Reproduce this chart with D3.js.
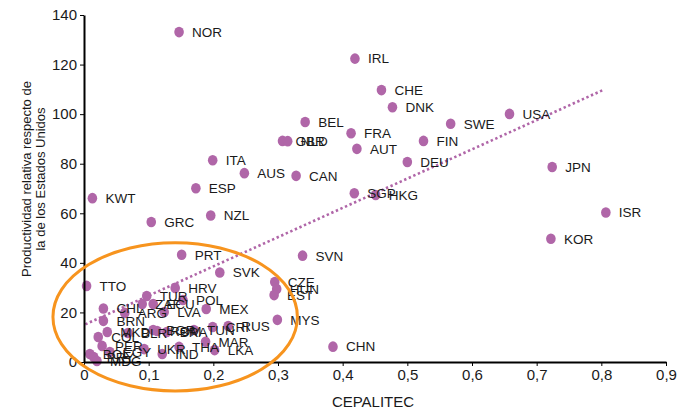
<!DOCTYPE html>
<html>
<head>
<meta charset="utf-8">
<script src="https://cdn.jsdelivr.net/npm/d3@7"></script>
<style>
  body { margin: 0; background: #fff; }
  svg { font-family: Arial, "Liberation Sans", sans-serif; }
  .axis path, .axis line { stroke: #000; }
  .axis path { stroke-width: 2; }
  .axis text { font-size: 15px; fill: #1a1a1a; }
  .lbl { font-size: 13.5px; fill: #1a1a1a; }
</style>
</head>
<body>
<script>
// country codes and their values (CEPALITEC, productivity relative to USA)
var countries = ["NOR","IRL","CHE","DNK","BEL","FRA","AUT","SWE","FIN","USA","DEU","JPN","CAN","SGP","HKG","ISR","KOR","SVN","CHN","GBR","NLD","ITA","AUS","ESP","KWT","GRC","NZL","PRT","SVK","CZE","HUN","EST","MYS","MEX","HRV","POL","TUR","ZAF","ECU","LVA","TTO","CHL","BRN","ARG","MKD","COL","PER","EGY","BOL","PRY","MDG","BLR","BGR","ROM","BRA","TUN","CRI","RUS","MAR","LKA","THA","UKR","IND"];
var xVals = [0.147,0.419,0.460,0.477,0.342,0.413,0.422,0.567,0.525,0.658,0.500,0.724,0.328,0.418,0.451,0.807,0.722,0.338,0.385,0.307,0.315,0.199,0.248,0.173,0.013,0.104,0.196,0.151,0.210,0.295,0.298,0.294,0.299,0.189,0.141,0.153,0.097,0.090,0.107,0.124,0.004,0.030,0.030,0.063,0.036,0.022,0.028,0.040,0.009,0.015,0.020,0.068,0.107,0.113,0.128,0.170,0.199,0.223,0.188,0.202,0.147,0.093,0.121];
var yVals = [133.1,122.4,109.7,102.8,96.8,92.3,86.0,96.1,89.2,100.1,80.7,78.7,75.1,68.1,67.4,60.3,49.7,42.9,6.2,89.2,89.1,81.4,76.2,70.1,66.1,56.5,59.1,43.3,36.1,32.3,29.5,27.0,17.0,21.4,29.9,25.0,26.6,23.4,23.4,20.2,30.7,21.6,16.6,19.8,12.1,10.1,6.5,4.0,3.2,2.0,0.4,11.7,12.9,12.5,12.1,12.9,14.1,14.5,8.2,4.8,6.1,5.2,3.2];

// linear trend (end points)
var trendX = [0.002, 0.805];
var trendY = [15.2, 110.0];

// highlighted group (ellipse centre and radii in data units)
var ringCenter = [0.141, 18.2];
var ringRadius = [0.189, 29.9];

var xTicks = [0,0.1,0.2,0.3,0.4,0.5,0.6,0.7,0.8,0.9];
var yTicks = [0,20,40,60,80,100,120,140];

var W = 689, H = 411;
var m = {t: 15, r: 23, b: 49, l: 84};
var width = W - m.l - m.r, height = H - m.t - m.b;

var x = d3.scaleLinear().domain([0, 0.9]).range([0, width]);
var y = d3.scaleLinear().domain([0, 140]).range([height, 0]);

var svg = d3.select("body").append("svg")
  .attr("width", W).attr("height", H);
var g = svg.append("g").attr("transform", "translate(" + m.l + "," + m.t + ")");

var fmt = function(d) { return d === 0 ? "0" : d3.format(".1f")(d).replace(".", ","); };

// trend line
g.append("line")
  .attr("x1", x(trendX[0])).attr("y1", y(trendY[0]))
  .attr("x2", x(trendX[1])).attr("y2", y(trendY[1]))
  .attr("stroke", "#b066a8")
  .attr("stroke-width", 2.6)
  .attr("stroke-dasharray", "2.4,2.6");

// points
g.selectAll(".dot")
  .data(countries)
  .enter().append("ellipse")
  .attr("class", "dot")
  .attr("cx", function(d, i) { return x(xVals[i]); })
  .attr("cy", function(d, i) { return y(yVals[i]); })
  .attr("rx", 4.8)
  .attr("ry", 5.3)
  .style("fill", "#b066a8");

// labels
g.selectAll(".lbl")
  .data(countries)
  .enter().append("text")
  .attr("class", "lbl")
  .attr("x", function(d, i) { return x(xVals[i]) + 13; })
  .attr("y", function(d, i) { return y(yVals[i]); })
  .attr("dy", ".36em")
  .text(function(d) { return d; });

// axes
g.append("g")
  .attr("class", "x axis")
  .attr("transform", "translate(0," + height + ")")
  .call(d3.axisBottom(x).tickValues(xTicks).tickFormat(fmt).tickSize(4).tickSizeOuter(0));

g.append("g")
  .attr("class", "y axis")
  .call(d3.axisLeft(y).tickValues(yTicks).tickSize(4).tickSizeOuter(0));

// orange ring
g.append("ellipse")
  .attr("cx", x(ringCenter[0]))
  .attr("cy", y(ringCenter[1]))
  .attr("rx", x(ringRadius[0]) - x(0))
  .attr("ry", y(0) - y(ringRadius[1]))
  .attr("fill", "none")
  .attr("stroke", "#f7941e")
  .attr("stroke-width", 3);

// axis titles
svg.append("text")
  .attr("x", 373).attr("y", 407)
  .attr("text-anchor", "middle")
  .style("font-size", "15px").style("fill", "#1a1a1a")
  .text("CEPALITEC");

var yt = svg.append("text")
  .attr("transform", "translate(0,179) rotate(-90)")
  .attr("text-anchor", "middle")
  .style("font-size", "13px").style("fill", "#1a1a1a");
yt.append("tspan").attr("x", 0).attr("y", 30.5).text("Productividad relativa respecto de");
yt.append("tspan").attr("x", 0).attr("y", 44.5).text("la de los Estados Unidos");
</script>
</body>
</html>
